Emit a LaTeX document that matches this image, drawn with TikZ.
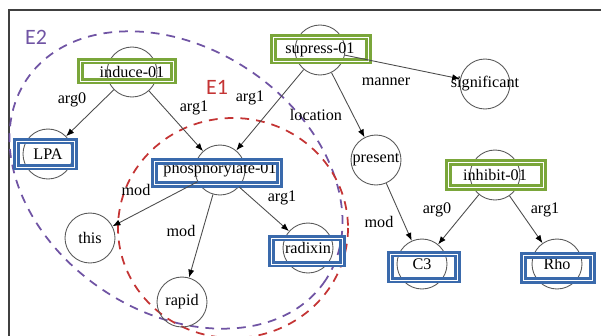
\documentclass[tikz,border=0pt]{standalone}
\usepackage{fontspec}
\setmainfont{Liberation Serif}
\newfontfamily\grpfont{Carlito}
\usetikzlibrary{arrows.meta}
\definecolor{evtgreen}{RGB}{122,166,58}
\definecolor{entblue}{RGB}{58,106,172}
\definecolor{etwo}{RGB}{112,84,164}
\definecolor{eone}{RGB}{196,52,52}

\begin{document}
\begin{tikzpicture}[x=0.02cm, y=-0.02cm,
        font=\fontsize{9.2}{11}\selectfont,
        concept/.style={circle, draw=black!65, line width=0.5pt, minimum size=1cm, inner sep=0pt, label={center:#1}},
        frame/.style={rectangle, draw=#1, line width=1.5pt, double=white, double distance=0.5pt, inner sep=0pt},
        link/.style={draw=black!70, line width=0.5pt, -{Latex[black, length=4.5pt, width=3.5pt]}},
        rel/.style={inner sep=1pt},
        group/.style={dash pattern=on 5pt off 4pt, line width=1pt, draw=#1},
        grplabel/.style={text=#1, font=\grpfont\fontsize{12.5}{14}\selectfont},
        ]
    \useasboundingbox (0,0) rectangle (601,335);
    \draw[black!75, line width=0.9pt] (9,345) -- (9,10) -- (610,10);

    % event groups
    \draw[group=etwo, rotate around={-34:(176,180)}] (176,180) ellipse [x radius=180, y radius=132];
    \draw[group=eone] (233,228) ellipse [x radius=115, y radius=110];
    \node[grplabel=etwo] (e2) at (36,37) {E2};
    \node[grplabel=eone] (e1) at (217,87) {E1};

    % concepts
    \node[concept=induce-01] (induce) at (132,72) {};
    \node[concept=supress-01] (supress) at (320,50) {};
    \node[concept=significant] (significant) at (485,84) {};
    \node[concept=LPA] (lpa) at (48,154) {};
    \node[concept=phosphorylate-01] (phos) at (220,170) {};
    \node[concept=present] (present) at (376,160) {};
    \node[concept=inhibit-01] (inhibit) at (495,175) {};
    \node[concept=this] (this) at (90,238) {};
    \node[concept=rapid] (rapid) at (182,302) {};
    \node[concept=radixin] (radixin) at (308,248) {};
    \node[concept=C3] (c3) at (422,264) {};
    \node[concept=Rho] (rho) at (557,264) {};

    % boxes
    \node[frame=evtgreen, minimum width=1.86cm, minimum height=0.4cm] (induce-box) at (127,71) {};
    \node[frame=evtgreen, minimum width=1.9cm, minimum height=0.48cm] (supress-box) at (321,49) {};
    \node[frame=evtgreen, minimum width=1.9cm, minimum height=0.5cm] (inhibit-box) at (496,175) {};
    \node[frame=entblue, minimum width=1.16cm, minimum height=0.52cm] (lpa-box) at (45.5,154) {};
    \node[frame=entblue, minimum width=2.5cm, minimum height=0.46cm] (phos-box) at (217,173) {};
    \node[frame=entblue, minimum width=1.42cm, minimum height=0.52cm] (radixin-box) at (307,251) {};
    \node[frame=entblue, minimum width=1.34cm, minimum height=0.52cm] (c3-box) at (424,267) {};
    \node[frame=entblue, minimum width=1.38cm, minimum height=0.5cm] (rho-box) at (558,268) {};

    % relations
    \draw[link] (induce) -- (lpa) node[rel] at (72,100) {arg0};
    \draw[link] (induce) -- (phos) node[rel] at (194,108) {arg1};
    \draw[link] (supress) -- (phos) node[rel] at (250,98) {arg1};
    \draw[link] (supress) -- (present) node[rel] at (316,115) {location};
    \draw[link] (supress) -- (significant) node[rel] at (386,82) {manner};
    \draw[link] (phos) -- (this) node[rel] at (136,190) {mod};
    \draw[link] (phos) -- (rapid) node[rel] at (181,231) {mod};
    \draw[link] (phos) -- (radixin) node[rel] at (282,198) {arg1};
    \draw[link] (present) -- (c3) node[rel] at (379,222) {mod};
    \draw[link] (inhibit) -- (c3) node[rel] at (437,210) {arg0};
    \draw[link] (inhibit) -- (rho) node[rel] at (545,210) {arg1};
\end{tikzpicture}
\end{document}
